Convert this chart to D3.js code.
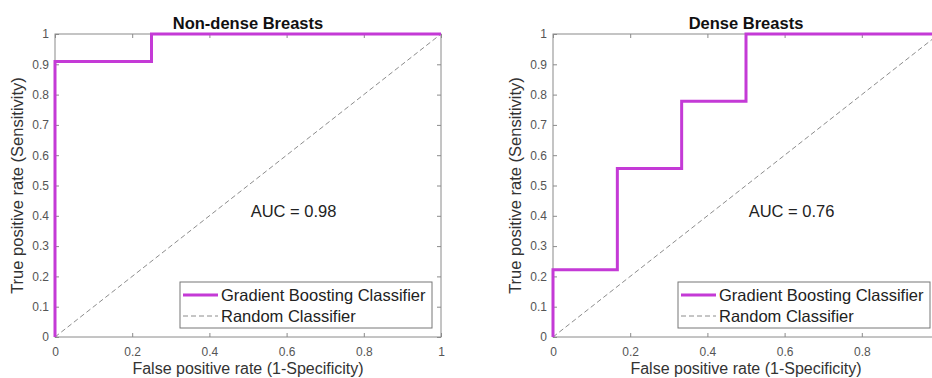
<!DOCTYPE html>
<html>
<head>
<meta charset="utf-8">
<script src="https://cdn.jsdelivr.net/npm/d3@7"></script>
<style>
  body { margin: 0; background: #fff; }
  svg { display: block; font-family: "Liberation Sans", Arial, sans-serif; }
</style>
</head>
<body>
<svg id="chart" width="932" height="378"></svg>
<script>
// ROC points
const titles = ["Non-dense Breasts", "Dense Breasts"];
const aucLabels = ["AUC = 0.98", "AUC = 0.76"];
const nonDenseFpr = [0, 0, 0.25, 0.25, 1];
const nonDenseTpr = [0, 0.909, 0.909, 1, 1];
const denseFpr = [0, 0, 0.1667, 0.1667, 0.3333, 0.3333, 0.5, 0.5, 1];
const denseTpr = [0, 0.222, 0.222, 0.556, 0.556, 0.778, 0.778, 1, 1];
const randomLine = [0, 1];
const xTicks = [0, 0.2, 0.4, 0.6, 0.8, 1];
const yTicks = [0, 0.1, 0.2, 0.3, 0.4, 0.5, 0.6, 0.7, 0.8, 0.9, 1];
const legendLabels = ["Gradient Boosting Classifier", "Random Classifier"];

const svg = d3.select("#chart");
const width = +svg.attr("width");
const curveColor = "#c43ad6";
const axisColor = "#8a8a8a";
const tickText = "#555";

const panels = [
  { left: 55, fpr: nonDenseFpr, tpr: nonDenseTpr },
  { left: 553, fpr: denseFpr, tpr: denseTpr }
];
const plotW = 386, plotTop = 34, plotH = 303;

panels.forEach((p, i) => {
  const x = d3.scaleLinear().domain([0, 1]).range([p.left, p.left + plotW]);
  const y = d3.scaleLinear().domain([0, 1]).range([plotTop + plotH, plotTop]);
  const g = svg.append("g");

  // box
  g.append("rect")
    .attr("x", x(0)).attr("y", y(1))
    .attr("width", x(1) - x(0)).attr("height", y(0) - y(1))
    .attr("fill", "none").attr("stroke", axisColor).attr("stroke-width", 1);

  // axes with inward ticks
  const styleAxis = sel => {
    sel.select(".domain").remove();
    sel.selectAll(".tick line").attr("stroke", axisColor);
    sel.selectAll(".tick text").attr("fill", tickText).style("font-size", "12px");
  };
  // x labels that fall past the page edge are not shown (as in the cropped reference)
  const shownX = xTicks.filter(t => x(t) + 4 < width);
  g.append("g").attr("transform", `translate(0,${y(0)})`)
    .call(d3.axisBottom(x).tickValues(shownX).tickSizeInner(-4).tickSizeOuter(0).tickPadding(10).tickFormat(d3.format("")))
    .call(styleAxis);
  g.append("g").attr("transform", `translate(0,${y(1)})`)
    .call(d3.axisTop(x).tickValues(xTicks).tickSizeInner(-4).tickSizeOuter(0).tickFormat(""))
    .call(styleAxis);
  g.append("g").attr("transform", `translate(${x(0)},0)`)
    .call(d3.axisLeft(y).tickValues(yTicks).tickSizeInner(-4).tickSizeOuter(0).tickPadding(6).tickFormat(d3.format("")))
    .call(styleAxis);
  g.append("g").attr("transform", `translate(${x(1)},0)`)
    .call(d3.axisRight(y).tickValues(yTicks).tickSizeInner(-4).tickSizeOuter(0).tickFormat(""))
    .call(styleAxis);

  // random diagonal
  g.append("path")
    .datum(randomLine)
    .attr("d", d3.line().x(d => x(d)).y(d => y(d)))
    .attr("fill", "none").attr("stroke", "#8c8c8c")
    .attr("stroke-width", 1).attr("stroke-dasharray", "5 3");

  // ROC curve
  g.append("path")
    .datum(d3.zip(p.fpr, p.tpr))
    .attr("d", d3.line().x(d => x(d[0])).y(d => y(d[1])))
    .attr("fill", "none").attr("stroke", curveColor)
    .attr("stroke-width", 3).attr("stroke-linejoin", "miter");

  // title
  g.append("text")
    .attr("x", x(0.5)).attr("y", 29)
    .attr("text-anchor", "middle")
    .style("font-size", "16.5px").style("font-weight", "bold")
    .attr("fill", "#111")
    .text(titles[i]);

  // axis labels
  g.append("text")
    .attr("x", x(0.5)).attr("y", 373.5)
    .attr("text-anchor", "middle")
    .style("font-size", "16px").attr("fill", "#333")
    .text("False positive rate (1-Specificity)");
  g.append("text")
    .attr("transform", `translate(${x(0) - 32},${y(0.5)}) rotate(-90)`)
    .attr("text-anchor", "middle")
    .style("font-size", "16.5px").attr("fill", "#333")
    .text("True positive rate (Sensitivity)");

  // AUC annotation
  g.append("text")
    .attr("x", x(0.507)).attr("y", y(0.395))
    .style("font-size", "16.5px").attr("fill", "#222")
    .text(aucLabels[i]);

  // legend
  const lw = 252, lh = 46;
  const lx = x(1) - 9 - lw, ly = y(0) - 9 - lh;
  const lg = g.append("g").attr("transform", `translate(${lx},${ly})`);
  lg.append("rect").attr("width", lw).attr("height", lh)
    .attr("fill", "#fff").attr("stroke", "#777").attr("stroke-width", 1);
  lg.append("line").attr("x1", 3).attr("x2", 38).attr("y1", 13).attr("y2", 13)
    .attr("stroke", curveColor).attr("stroke-width", 3);
  lg.append("line").attr("x1", 3).attr("x2", 38).attr("y1", 34).attr("y2", 34)
    .attr("stroke", "#8c8c8c").attr("stroke-width", 1).attr("stroke-dasharray", "5 3");
  lg.selectAll("text.lab")
    .data(legendLabels)
    .join("text")
    .attr("class", "lab")
    .attr("x", 41).attr("y", (d, k) => 13 + k * 21)
    .attr("dy", "0.35em")
    .style("font-size", "16.5px").attr("fill", "#222")
    .text(d => d);
});
</script>
</body>
</html>
